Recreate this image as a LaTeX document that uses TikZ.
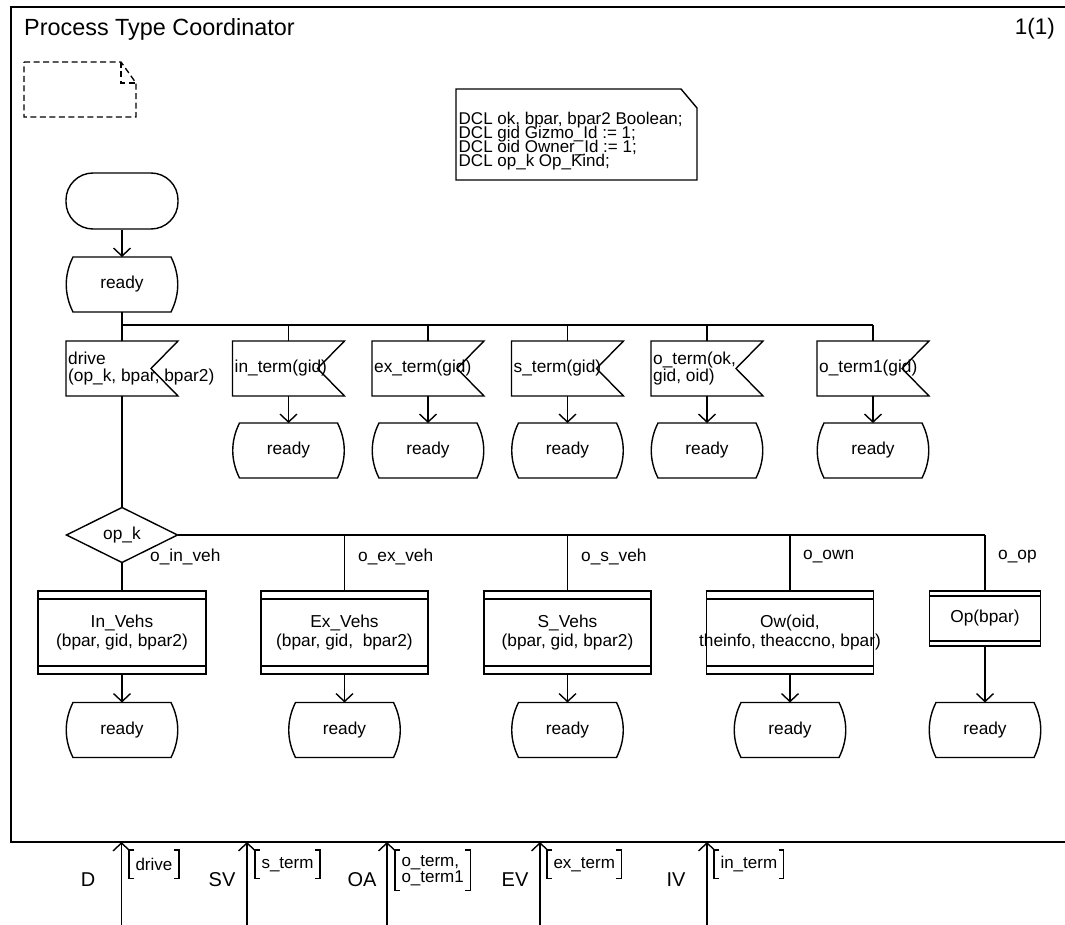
\documentclass[tikz,border=0pt]{standalone}
\usepackage{fontspec}
\setmainfont{Liberation Sans}
\usetikzlibrary{arrows.meta}

\tikzset{
  ln/.style={line width=1.4pt},
  bus/.style={line width=2.2pt},
  framebox/.style={line width=1.7pt},
  flow/.style={line width=1.4pt, -{Straight Barb[length=8pt,width=17pt]}},
  txt/.style={font=\fontsize{17.3}{17.5}\selectfont, inner sep=0pt},
  dcltxt/.style={font=\fontsize{17}{17}\selectfont, inner sep=0pt, anchor=base west},
  hid/.style={inner sep=0pt, outer sep=0pt},
  stbox/.style={hid, minimum width=112pt, minimum height=55pt, font=\fontsize{17.3}{17.5}\selectfont},
  inbox/.style={hid, minimum width=112pt, minimum height=55pt},
  decbox/.style={hid, minimum width=111pt, minimum height=55pt, font=\fontsize{17.3}{17.5}\selectfont},
  startbox/.style={draw, ln, rounded corners=27pt, minimum width=112pt, minimum height=56pt, inner sep=0pt},
  procbox/.style={draw, ln, inner sep=0pt, outer sep=0pt},
  branch/.style={txt, anchor=west},
  titletxt/.style={font=\fontsize{23.4}{25}\selectfont, inner sep=0pt},
  pagetxt/.style={font=\fontsize{22.5}{24}\selectfont, inner sep=0pt},
  chname/.style={font=\fontsize{20}{22}\selectfont, inner sep=0pt},
  siglist/.style={font=\fontsize{17}{16}\selectfont, inner xsep=6.3pt, inner ysep=5pt,
    minimum height=28pt, anchor=north west, align=left},
  cmtline/.style={line width=1.3pt, dash pattern=on 6pt off 3.5pt},
}

% state symbol: flat top and bottom, bulging sides
\newcommand\stateat[2]{%
  \node[stbox] (#1) at (#2) {ready};
  \draw[ln] ([xshift=7pt]#1.north west) -- ([xshift=-7pt]#1.north east)
    .. controls ([xshift=2pt,yshift=-18pt]#1.north east) and ([xshift=2pt,yshift=18pt]#1.south east) .. ([xshift=-7pt]#1.south east)
    -- ([xshift=7pt]#1.south west)
    .. controls ([xshift=-2pt,yshift=18pt]#1.south west) and ([xshift=-2pt,yshift=-18pt]#1.north west) .. cycle;}

% input signal symbol: box with a notch on the right
\newcommand\inputat[3]{%
  \node[inbox] (#1) at (#2) {};
  \draw[ln] (#1.north west) -- (#1.north east) -- ([xshift=-27pt]#1.east)
    -- (#1.south east) -- (#1.south west) -- cycle;
  \node[txt, anchor=west, align=left] (#1-t) at ([xshift=2pt]#1.west) {#3};}

% procedure call: box with double top and bottom edges
\newcommand\procat[6]{%
  \node[procbox, minimum width=#3pt, minimum height=#4pt] (#1) at (#2) {};
  \draw[ln] ([yshift=-#5pt]#1.north west) -- ([yshift=-#5pt]#1.north east)
            ([yshift=#5pt]#1.south west) -- ([yshift=#5pt]#1.south east);
  \node[txt, align=center, font=\fontsize{17.3}{18.5}\selectfont] (#1-t) at (#1) {#6};}

% square brackets round a signal list
\newcommand\sigbrk[1]{%
  \draw[ln] ([xshift=5pt]#1.north west) -- (#1.north west) -- (#1.south west) -- ([xshift=5pt]#1.south west)
            ([xshift=-5pt]#1.north east) -- (#1.north east) -- (#1.south east) -- ([xshift=-5pt]#1.south east);}

\begin{document}
\begin{tikzpicture}[x=1pt,y=-1pt]
\fill[white] (0,0) rectangle (1065,925);
\useasboundingbox (0,0) rectangle (1065,925);
\clip (0,0) rectangle (1065,925);

% frame and heading (the frame runs on past the right edge)
\draw[framebox] (11,7) rectangle (1075,842);
\node[titletxt, anchor=west] (ttl) at (24,29) {Process Type Coordinator};
\node[pagetxt, anchor=east] (pg) at (1055,29) {1(1)};

% empty comment
\node[hid, minimum width=112pt, minimum height=55pt] (cmt) at (80,89.5) {};
\draw[cmtline] (cmt.north west) -- ([xshift=-15pt]cmt.north east) -- ([yshift=-21pt]cmt.north east)
  -- (cmt.south east) -- (cmt.south west) -- cycle;
\draw[cmtline] ([xshift=-15pt]cmt.north east) -- ([xshift=-15pt,yshift=-21pt]cmt.north east) -- ([yshift=-21pt]cmt.north east);

% declarations
\node[hid, minimum width=241pt, minimum height=91pt] (dcl) at (576.5,134.5) {};
\draw[ln] (dcl.north west) -- ([xshift=-16pt]dcl.north east) -- ([yshift=-19pt]dcl.north east)
  -- (dcl.south east) -- (dcl.south west) -- cycle;
\node[dcltxt] (dcl1) at (458.5,124.4) {DCL ok, bpar, bpar2 Boolean;};
\node[dcltxt] (dcl2) at (458.5,138.6) {DCL gid Gizmo\_Id := 1;};
\node[dcltxt] (dcl3) at (458.5,152.8) {DCL oid Owner\_Id := 1;};
\node[dcltxt] (dcl4) at (458.5,167.0) {DCL op\_k Op\_Kind;};

% start and first state
\node[startbox] (start) at (122,201) {};
\stateat{r0}{122,284.5}
\draw[flow] (start.south) -- (r0.north);

% inputs
\inputat{i1}{122,368.5}{drive\\(op\_k, bpar, bpar2)}
\inputat{i2}{288.5,368.5}{in\_term(gid)}
\inputat{i3}{428,368.5}{ex\_term(gid)}
\inputat{i4}{567.5,368.5}{s\_term(gid)}
\inputat{i5}{707,368.5}{o\_term(ok,\\gid, oid)}
\inputat{i6}{873,368.5}{o\_term1(gid)}

\coordinate (busL) at (122,325);
\coordinate (busR) at (873,325);
\draw[ln] (r0.south) -- (busL);
\draw[bus] (busL) -- (busR);
\draw[ln] (busL) -- (i1.north);
\foreach \n in {i2,i3,i4,i5} {\draw[ln] (\n.north |- busL) -- (\n.north);}
\draw[ln] (busR) -- (i6.north);

% states after the terminating inputs
\stateat{r2}{288.5,450.5}
\stateat{r3}{428,450.5}
\stateat{r4}{567.5,450.5}
\stateat{r5}{707,450.5}
\stateat{r6}{873,450.5}
\foreach \a/\b in {i2/r2,i3/r3,i4/r4,i5/r5,i6/r6} {\draw[flow] (\a.south) -- (\b.north);}

% decision
\node[decbox] (dec) at (122,535) {op\_k};
\draw[ln] (dec.north) -- (dec.east) -- (dec.south) -- (dec.west) -- cycle;
\draw[ln] (i1.south) -- (dec.north);

% procedure calls
\procat{p1}{122,632.5}{168}{83}{8}{In\_Vehs\\(bpar, gid, bpar2)}
\procat{p2}{344.5,632.5}{167}{83}{8}{Ex\_Vehs\\(bpar, gid,~ bpar2)}
\procat{p3}{567.5,632.5}{167}{83}{8}{S\_Vehs\\(bpar, gid, bpar2)}
\procat{p4}{790,632.5}{167}{83}{8}{Ow(oid,\\theinfo, theaccno, bpar)}
\procat{p5}{985,618.5}{111}{55}{5}{Op(bpar)}

\coordinate (decR) at (985,535);
\draw[ln] (dec.east) -- (decR);
\draw[ln] (decR) -- (p5.north);
\draw[ln] (dec.south) -- (p1.north);
\foreach \n in {p2,p3,p4} {\draw[ln] (\n.north |- decR) -- (\n.north);}

\node[branch] (a1) at (150,557) {o\_in\_veh};
\node[branch] (a2) at (358,557) {o\_ex\_veh};
\node[branch] (a3) at (581,557) {o\_s\_veh};
\node[branch] (a4) at (803,557) {o\_own};
\node[branch] (a5) at (998,557) {o\_op};

% states after the procedure calls
\stateat{q1}{122,730}
\stateat{q2}{344.5,730}
\stateat{q3}{567.5,730}
\stateat{q4}{790,730}
\stateat{q5}{985,730}
\foreach \a/\b in {p1/q1,p2/q2,p3/q3,p4/q4,p5/q5} {\draw[flow] (\a.south) -- (\b.north);}

% incoming channels
\foreach \n/\x in {D/121.5, SV/247, OA/387, EV/540, IV/707} {
  \coordinate (ch\n-b) at (\x,925);
  \coordinate (ch\n-t) at (\x,842);
  \draw[flow] (ch\n-b) -- (ch\n-t);
}
\node[chname] (nD) at (88,880) {D};
\node[chname] (nSV) at (222,880) {SV};
\node[chname] (nOA) at (362,880) {OA};
\node[chname] (nEV) at (515,880) {EV};
\node[chname] (nIV) at (676,880) {IV};

\node[siglist] (sD) at (129,850) {drive};
\node[siglist] (sSV) at (255,850) {s\_term};
\node[siglist] (sOA) at (395,850) {o\_term,\\o\_term1};
\node[siglist] (sEV) at (547,850) {ex\_term};
\node[siglist] (sIV) at (714,850) {in\_term};
\foreach \n in {sD,sSV,sOA,sEV,sIV} {\sigbrk{\n}}
\end{tikzpicture}
\end{document}
